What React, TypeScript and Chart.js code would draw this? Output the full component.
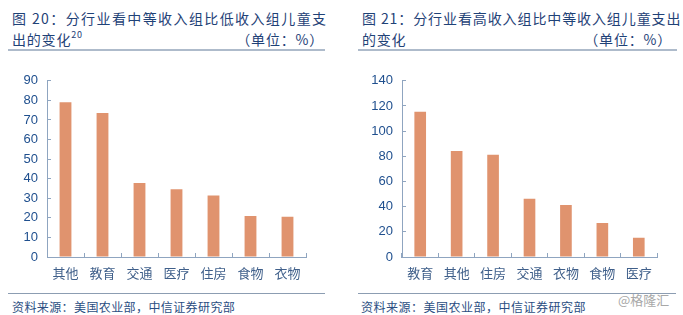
import React, { useEffect, useRef } from "react";
import { Chart, registerables } from "chart.js";

Chart.register(...registerables);

const leftCategories = ["其他", "教育", "交通", "医疗", "住房", "食物", "衣物"];
const leftValues = [79, 73.6, 37.8, 34.6, 31.4, 20.9, 20.5];
const leftMax = 90;
const leftStep = 10;

const rightCategories = ["教育", "其他", "住房", "交通", "衣物", "食物", "医疗"];
const rightValues = [115.5, 84.2, 81.2, 46.3, 41.3, 27.1, 15.3];
const rightMax = 140;
const rightStep = 20;

const BAR = "#E0936E";
const AXIS = "#8FA5C0";
const TICK = "#1F4F8E";
const XLAB = "#3F5F8A";
const TITLE = "#1F4277";
const CJK = '"Noto Sans CJK SC", "Noto Sans", sans-serif';

type CP = {
  labels: string[];
  values: number[];
  max: number;
  step: number;
  left: number;
  top: number;
  width: number;
  height: number;
  yAxisWidth: number;
  xAxisHeight: number;
  padTop: number;
  padRight: number;
};

function BarChart(p: CP) {
  const ref = useRef<HTMLCanvasElement | null>(null);
  useEffect(() => {
    if (!ref.current) return;
    const chart = new Chart(ref.current, {
      type: "bar",
      data: {
        labels: p.labels,
        datasets: [
          {
            data: p.values,
            backgroundColor: BAR,
            borderWidth: 0,
            barPercentage: 0.32,
            categoryPercentage: 1,
          },
        ],
      },
      options: {
        animation: false,
        responsive: false,
        maintainAspectRatio: false,
        devicePixelRatio: 1,
        layout: { padding: { top: p.padTop, right: p.padRight, left: 0, bottom: 0 } },
        plugins: { legend: { display: false }, tooltip: { enabled: false }, title: { display: false } },
        scales: {
          x: {
            offset: true,
            grid: {
              offset: true,
              drawOnChartArea: false,
              drawTicks: true,
              tickLength: -4,
              color: AXIS,
              lineWidth: 1,
            },
            border: { display: true, color: AXIS, width: 1 },
            ticks: {
              padding: 12,
              color: XLAB,
              font: { family: CJK, size: 13 },
              maxRotation: 0,
              autoSkip: false,
            },
            afterFit: (s: any) => {
              s.height = p.xAxisHeight;
            },
          },
          y: {
            min: 0,
            max: p.max,
            grid: {
              drawOnChartArea: false,
              drawTicks: true,
              tickLength: -4,
              color: AXIS,
              lineWidth: 1,
            },
            border: { display: true, color: AXIS, width: 1 },
            ticks: {
              stepSize: p.step,
              padding: 13,
              color: TICK,
              font: { family: '"Liberation Sans", Arial, sans-serif', size: 13 },
            },
            afterFit: (s: any) => {
              s.width = p.yAxisWidth;
            },
          },
        },
      },
    });
    return () => chart.destroy();
  }, []);
  return (
    <canvas
      ref={ref}
      width={p.width}
      height={p.height}
      style={{ position: "absolute", left: p.left, top: p.top, width: p.width, height: p.height }}
    />
  );
}

const abs = (s: React.CSSProperties): React.CSSProperties => ({ position: "absolute", whiteSpace: "nowrap", ...s });

export default function App() {
  return (
    <div style={{ position: "absolute", left: 0, top: 0, width: 683, height: 315, background: "#fff", overflow: "hidden", fontFamily: CJK }}>
      {/* Left title */}
      <div style={abs({ left: 12, top: 8, fontSize: 14, lineHeight: "20px", color: TITLE, letterSpacing: 1.4 })}>
        图 20：分行业看中等收入组比低收入组儿童支
      </div>
      <div style={abs({ left: 12, top: 29, fontSize: 14, lineHeight: "20px", color: TITLE, letterSpacing: 0.8 })}>
        出的变化<sup style={{ fontSize: 9, verticalAlign: "top", position: "relative", top: -4 }}>20</sup>
      </div>
      <div style={abs({ right: 683 - 324, top: 29, fontSize: 14, lineHeight: "20px", color: TITLE, letterSpacing: 0.8 })}>
        （单位：%）
      </div>
      <div style={abs({ left: 8, top: 49, width: 317, height: 2, background: "#AEBBCB" })} />

      {/* Right title */}
      <div style={abs({ left: 362, top: 8, fontSize: 14, lineHeight: "20px", color: TITLE, letterSpacing: 0.9 })}>
        图 21：分行业看高收入组比中等收入组儿童支出
      </div>
      <div style={abs({ left: 362, top: 29, fontSize: 14, lineHeight: "20px", color: TITLE, letterSpacing: 0.8 })}>
        的变化
      </div>
      <div style={abs({ right: 683 - 672, top: 29, fontSize: 14, lineHeight: "20px", color: TITLE, letterSpacing: 0.8 })}>
        （单位：%）
      </div>
      <div style={abs({ left: 358, top: 49, width: 319, height: 2, background: "#AEBBCB" })} />

      <BarChart
        labels={leftCategories}
        values={leftValues}
        max={leftMax}
        step={leftStep}
        left={0}
        top={60}
        width={330}
        height={230}
        yAxisWidth={47}
        xAxisHeight={33}
        padTop={13}
        padRight={24}
      />
      <BarChart
        labels={rightCategories}
        values={rightValues}
        max={rightMax}
        step={rightStep}
        left={345}
        top={60}
        width={330}
        height={230}
        yAxisWidth={57}
        xAxisHeight={33}
        padTop={13}
        padRight={18}
      />

      {/* Sources */}
      <div style={abs({ left: 8, top: 293, width: 317, height: 1, background: "#8C9DB2" })} />
      <div style={abs({ left: 358, top: 293, width: 318, height: 1, background: "#8C9DB2" })} />
      <div style={abs({ left: 12, top: 299, fontSize: 12, lineHeight: "16px", color: "#2B4E82", letterSpacing: 0.4 })}>
        资料来源：美国农业部，中信证券研究部
      </div>
      <div style={abs({ left: 361, top: 299, fontSize: 12, lineHeight: "16px", color: "#2B4E82", letterSpacing: 0.5 })}>
        资料来源：美国农业部，中信证券研究部
      </div>
      <div style={abs({ left: 618, top: 292, fontSize: 13, lineHeight: "16px", color: "#A8A8A8" })}>@格隆汇</div>
    </div>
  );
}
